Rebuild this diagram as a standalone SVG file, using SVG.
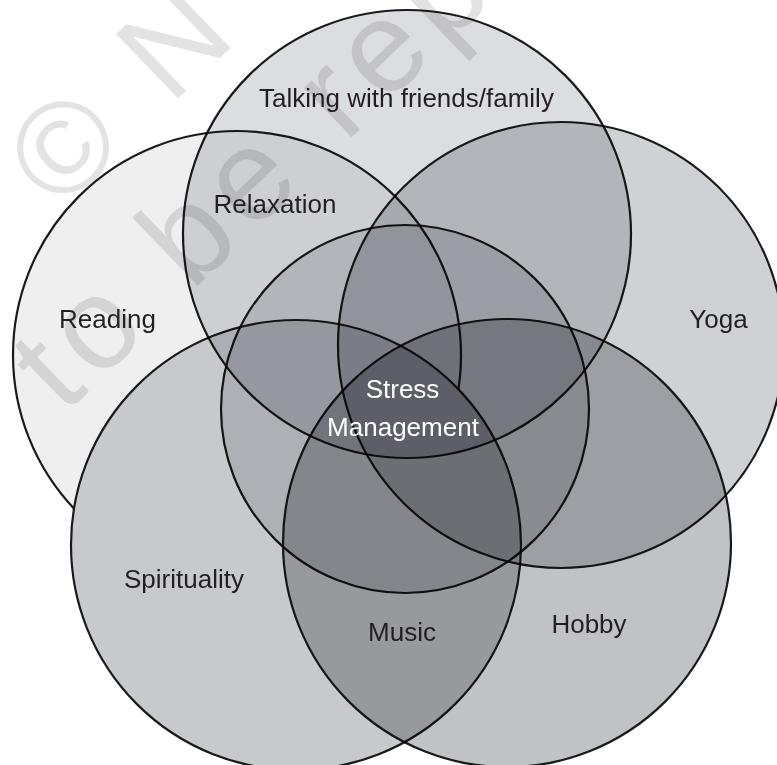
<svg xmlns="http://www.w3.org/2000/svg" width="777" height="765" viewBox="0 0 777 765">
  <style>
    .c { stroke: #1a1a1a; stroke-width: 2.2; }
    .mul { mix-blend-mode: multiply; }
    .lbl { font-family: "Liberation Sans", Arial, Helvetica, sans-serif; font-size: 26px; fill: #231f20; text-anchor: middle; }
    .lbl.white { fill: #ffffff; }
    .wm { font-family: "Liberation Sans", Arial, sans-serif; font-size: 130px; letter-spacing: 11px; fill: #e3e3e3; mix-blend-mode: multiply; }
  </style>
  <rect width="777" height="765" fill="#ffffff"/>
  <g id="reading">
    <circle class="c" cx="237" cy="355" r="224" fill="#efeff0"/>
  </g>
  <g id="spirituality">
    <circle class="c" cx="296" cy="545" r="225" fill="#c8c9cc"/>
  </g>
  <g id="talking">
    <circle class="c mul" cx="407" cy="234" r="224" fill="#dcdde0"/>
  </g>
  <g id="yoga">
    <circle class="c mul" cx="561" cy="345" r="223" fill="#d0d1d4"/>
  </g>
  <g id="stress-management">
    <circle class="c mul" cx="405" cy="409" r="184" fill="#dfdfe3"/>
  </g>
  <g id="hobby">
    <circle class="c mul" cx="507" cy="543" r="224" fill="#c1c2c5"/>
  </g>
  <g id="watermark" transform="translate(63.8,415.2) rotate(-44)">
    <text class="wm" x="137.8" y="-148.5">© N</text>
    <text class="wm" x="0" y="0">to be rep</text>
  </g>
  <g id="labels">
    <text class="lbl" x="406.5" y="107">Talking with friends/family</text>
    <text class="lbl" x="275" y="213">Relaxation</text>
    <text class="lbl" x="107.5" y="328">Reading</text>
    <text class="lbl" x="718.5" y="328">Yoga</text>
    <text class="lbl white" x="402.5" y="398">Stress</text>
    <text class="lbl white" x="403" y="436">Management</text>
    <text class="lbl" x="184" y="588">Spirituality</text>
    <text class="lbl" x="402" y="641">Music</text>
    <text class="lbl" x="589" y="633">Hobby</text>
  </g>
</svg>
